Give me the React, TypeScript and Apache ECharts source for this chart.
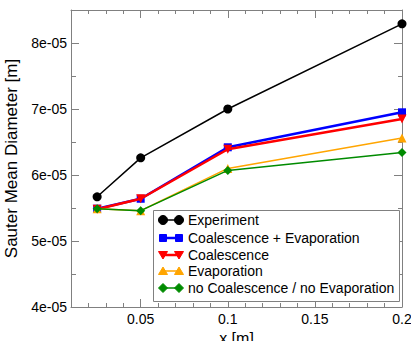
import React, { useEffect, useRef } from "react";
import * as echarts from "echarts";

const xPositions = [0.025, 0.05, 0.1, 0.2];
const experiment = [5.67e-5, 6.26e-5, 7.0e-5, 8.29e-5];
const coalEvap = [5.49e-5, 5.64e-5, 6.42e-5, 6.95e-5];
const coalescence = [5.48e-5, 5.64e-5, 6.39e-5, 6.85e-5];
const evaporation = [5.49e-5, 5.46e-5, 6.1e-5, 6.56e-5];
const noCoalNoEvap = [5.49e-5, 5.46e-5, 6.07e-5, 6.34e-5];
const seriesNames = [
  "Experiment",
  "Coalescence + Evaporation",
  "Coalescence",
  "Evaporation",
  "no Coalescence / no Evaporation",
];
const xLabelValues = [0.05, 0.1, 0.15, 0.2];

const FONT = "Liberation Sans, Arial, Helvetica, sans-serif";
const GRAY = "#808080";
const colors = ["#000000", "#0000ff", "#ff0000", "#ffa500", "#008b00"];
const symbols = ["circle", "rect", "triangle", "triangle", "diamond"];
const symbolRot = [0, 0, 180, 0, 0];
const symbolSizes = [9, 8, 9, 9, 9];
const lineWidths = [1.5, 2.5, 2.5, 1.5, 1.5];

function legendMarker(i: number, cx: number, cy: number) {
  const c = colors[i];
  const style = { fill: c, stroke: c, lineWidth: 1 };
  if (i === 0) return { type: "circle", shape: { cx, cy, r: 4.5 }, style };
  if (i === 1) return { type: "rect", shape: { x: cx - 3.5, y: cy - 3.5, width: 7, height: 7 }, style };
  if (i === 2)
    return { type: "polygon", shape: { points: [[cx - 4.5, cy - 3.5], [cx + 4.5, cy - 3.5], [cx, cy + 4]] }, style };
  if (i === 3)
    return { type: "polygon", shape: { points: [[cx - 4.5, cy + 3.5], [cx + 4.5, cy + 3.5], [cx, cy - 4]] }, style };
  return { type: "polygon", shape: { points: [[cx - 4.5, cy], [cx, cy - 4.5], [cx + 4.5, cy], [cx, cy + 4.5]] }, style };
}

export default function App() {
  const ref = useRef<HTMLDivElement>(null);
  useEffect(() => {
    document.body.style.margin = "0";
    if (!ref.current) return;
    const chart = echarts.init(ref.current, null, { renderer: "svg" });
    const allData = [experiment, coalEvap, coalescence, evaporation, noCoalNoEvap];

    const legendRows = [220, 238, 255, 271, 288];
    const legendEls: any[] = [
      {
        type: "rect",
        shape: { x: 153.5, y: 210.5, width: 246, height: 91 },
        style: { fill: "#fff", stroke: GRAY, lineWidth: 1 },
        z: 100,
      },
    ];
    seriesNames.forEach((name, i) => {
      const y = legendRows[i];
      legendEls.push({
        type: "line",
        shape: { x1: 163, y1: y, x2: 179, y2: y },
        style: { stroke: colors[i], lineWidth: lineWidths[i] },
        z: 101,
      });
      legendEls.push({ ...legendMarker(i, 163, y), z: 102 });
      legendEls.push({ ...legendMarker(i, 179, y), z: 102 });
      legendEls.push({
        type: "text",
        x: 188,
        y,
        style: {
          text: name,
          fill: "#000",
          font: `14px ${FONT}`,
          lineHeight: 13,
          textVerticalAlign: "middle",
          verticalAlign: "middle",
        },
        z: 102,
      });
    });

    const tickStyle = { color: GRAY, width: 1 };
    const xMinorAxis = (position: string, showLabels: boolean, extra: any = {}) => ({
      type: "value",
      position,
      min: 0.01,
      max: 0.2,
      interval: 0.01,
      axisLine: { show: true, lineStyle: tickStyle },
      axisTick: { show: true, inside: true, length: 4, lineStyle: tickStyle },
      axisLabel: showLabels
        ? {
            customValues: xLabelValues,
            formatter: (v: number) => String(+v.toFixed(2)),
            fontSize: 14,
            fontFamily: FONT,
            color: "#000",
            margin: 5,
          }
        : { show: false },
      splitLine: { show: false },
      ...extra,
    });
    const xMajorAxis = (position: string) => ({
      type: "value",
      position,
      min: 0.01,
      max: 0.2,
      axisLine: { show: false },
      axisTick: { show: true, inside: true, length: 8, customValues: xLabelValues, lineStyle: tickStyle },
      axisLabel: { show: false },
      splitLine: { show: false },
    });

    chart.setOption({
      animation: false,
      backgroundColor: "#fff",
      grid: { left: 71, right: 9, top: 10, bottom: 34, outerBoundsMode: "none", containLabel: false },
      xAxis: [
        xMinorAxis("bottom", true, {
          name: "x [m]",
          nameLocation: "middle",
          nameGap: 19,
          nameTextStyle: { fontSize: 16, fontFamily: FONT, color: "#000" },
        }),
        xMajorAxis("bottom"),
        xMinorAxis("top", false),
        xMajorAxis("top"),
      ],
      yAxis: [
        {
          type: "value",
          position: "left",
          min: 4e-5,
          max: 8.5e-5,
          interval: 1e-5,
          name: "Sauter Mean Diameter [m]",
          nameLocation: "middle",
          nameGap: 37,
          nameTextStyle: { fontSize: 17, fontFamily: FONT, color: "#000" },
          axisLine: { show: true, lineStyle: tickStyle },
          axisTick: { show: true, inside: true, length: 8, lineStyle: tickStyle },
          minorTick: { show: true, splitNumber: 2, length: 5, lineStyle: tickStyle },
          axisLabel: {
            showMaxLabel: false,
            formatter: (v: number) => {
              const k = v * 1e5;
              return Math.abs(k - Math.round(k)) < 1e-6 ? Math.round(k) + "e-05" : "";
            },
            fontSize: 14,
            fontFamily: FONT,
            color: "#000",
            margin: 4,
          },
          splitLine: { show: false },
        },
        {
          type: "value",
          position: "right",
          min: 4e-5,
          max: 8.5e-5,
          interval: 1e-5,
          axisLine: { show: true, lineStyle: tickStyle },
          axisTick: { show: true, inside: true, length: 8, lineStyle: tickStyle },
          minorTick: { show: true, splitNumber: 2, length: 4, lineStyle: tickStyle },
          axisLabel: { show: false },
          splitLine: { show: false },
        },
      ],
      series: allData.map((vals, i) => ({
        type: "line",
        name: seriesNames[i],
        xAxisIndex: 0,
        yAxisIndex: 0,
        data: vals.map((v, j) => [xPositions[j], v]),
        symbol: symbols[i],
        symbolRotate: symbolRot[i],
        symbolSize: symbolSizes[i],
        showAllSymbol: true,
        lineStyle: { color: colors[i], width: lineWidths[i] },
        itemStyle: { color: colors[i] },
        z: 2 + i,
      })),
      graphic: { elements: legendEls },
    });
    return () => chart.dispose();
  }, []);
  return <div ref={ref} style={{ position: "absolute", left: 0, top: 0, width: 411, height: 341 }} />;
}
